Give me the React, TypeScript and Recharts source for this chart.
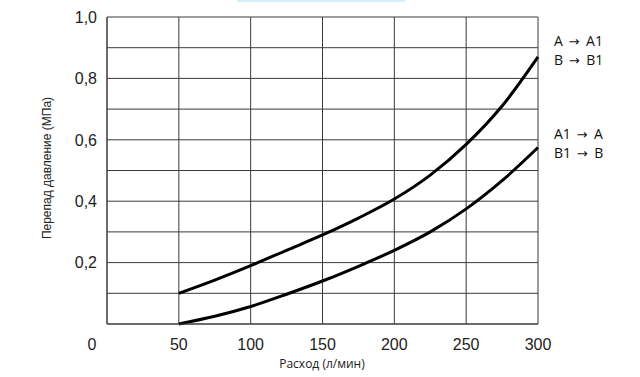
import React from "react";
import { LineChart, Line, XAxis, YAxis, CartesianGrid } from "recharts";

// расход, л/мин
const flow = [50, 75, 100, 125, 150, 175, 200, 225, 250, 275, 300];
// A -> A1, B -> B1
const forward = [0.1, 0.143, 0.19, 0.24, 0.29, 0.345, 0.407, 0.485, 0.585, 0.71, 0.87];
// A1 -> A, B1 -> B
const reverse = [0, 0.025, 0.057, 0.097, 0.14, 0.188, 0.24, 0.3, 0.375, 0.467, 0.575];

const xTicks = [0, 50, 100, 150, 200, 250, 300];
const yTicks = [0, 0.1, 0.2, 0.3, 0.4, 0.5, 0.6, 0.7, 0.8, 0.9, 1.0];

const legendRows = [
  { from: "A", to: "A1" },
  { from: "B", to: "B1" },
  { from: "A1", to: "A" },
  { from: "B1", to: "B" },
];

const data = flow.map((q, i) => ({ q, forward: forward[i], reverse: reverse[i] }));

const XTick = (props: any) => {
  const { x, y, payload } = props;
  const shift = payload.value === 0 ? -15 : 0;
  return (
    <text
      x={x + shift}
      y={y}
      dy={26}
      textAnchor="middle"
      fontSize={16}
      fontFamily="Liberation Sans, Arial, sans-serif"
      fill="#222"
    >
      {payload.value}
    </text>
  );
};

const YTick = (props: any) => {
  const { x, y, payload } = props;
  const v = Math.round(payload.value * 10);
  if (v === 0 || v % 2 !== 0) return null;
  return (
    <text
      x={x}
      y={y}
      dy="0.36em"
      textAnchor="end"
      fontSize={16}
      fontFamily="Liberation Sans, Arial, sans-serif"
      fill="#222"
    >
      {(v / 10).toFixed(1).replace(".", ",")}
    </text>
  );
};

const legendFont = "Open Sans, Noto Sans, sans-serif";
const legendY = [46, 65, 139, 158];

export default function App() {
  return (
    <div style={{ position: "absolute", left: 0, top: 0, width: 640, height: 377, background: "#fff" }}>
      <div style={{ position: "absolute", left: 237, top: 0, width: 168, height: 2, background: "#d4effb" }} />
      <LineChart width={640} height={377} data={data} margin={{ top: 17, right: 102, bottom: 0, left: 0 }}>
        <CartesianGrid stroke="#3a3a3a" strokeWidth={1} />
        <XAxis
          dataKey="q"
          type="number"
          domain={[0, 300]}
          ticks={xTicks}
          height={53}
          tickSize={0}
          tickMargin={0}
          tick={<XTick />}
          axisLine={{ stroke: "#3a3a3a" }}
          tickLine={false}
        />
        <YAxis
          type="number"
          domain={[0, 1]}
          ticks={yTicks}
          width={107}
          tickSize={0}
          tickMargin={10}
          tick={<YTick />}
          axisLine={{ stroke: "#3a3a3a" }}
          tickLine={false}
        />
        <Line type="monotone" dataKey="forward" stroke="#000" strokeWidth={3} dot={false} isAnimationActive={false} />
        <Line type="monotone" dataKey="reverse" stroke="#000" strokeWidth={3} dot={false} isAnimationActive={false} />
      </LineChart>
      <svg width={640} height={377} style={{ position: "absolute", left: 0, top: 0, pointerEvents: "none" }}>
        <text x={322} y={368} textAnchor="middle" fontSize={12} fontFamily={legendFont} fill="#222">
          Расход (л/мин)
        </text>
        <text
          transform="translate(51,168) rotate(-90)"
          textAnchor="middle"
          fontSize={12}
          fontFamily="Liberation Sans, Arial, sans-serif"
          fill="#222"
        >
          Перепад давление (МПа)
        </text>
        <g fontSize={14} fontFamily={legendFont} fill="#111">
          {legendRows.map((r, i) => (
            <text key={i} x={554} y={legendY[i]}>
              {r.from + " "}
              <tspan dx={2} fontFamily="DejaVu Sans" fontSize={13}>→</tspan>
              <tspan dx={3}>{" " + r.to}</tspan>
            </text>
          ))}
        </g>
      </svg>
    </div>
  );
}
